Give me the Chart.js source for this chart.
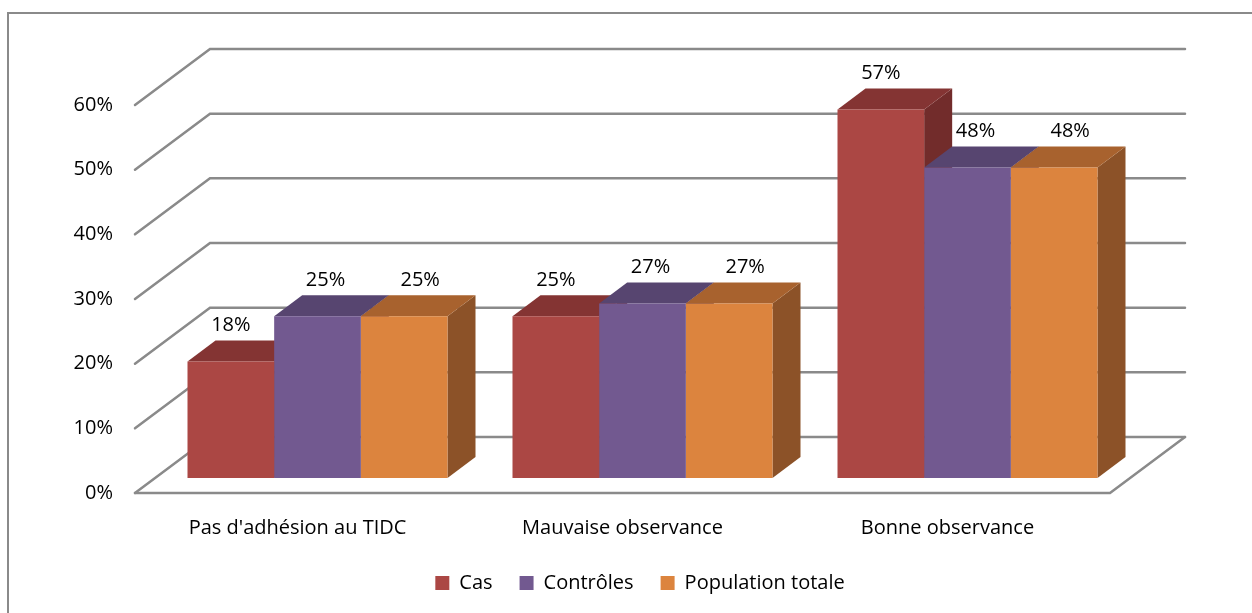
<!DOCTYPE html>
<html>
<head>
<meta charset="utf-8">
<script src="https://cdn.jsdelivr.net/npm/chart.js@4/dist/chart.umd.min.js"></script>
<style>
  html, body { margin: 0; padding: 0; background: #fff; overflow: hidden; }
  #frame { position: absolute; left: 7px; top: 12px; width: 1250px; height: 610px; border: 2px solid #8a8a8a; box-sizing: border-box; }
  canvas { position: absolute; left: 0; top: 0; }
</style>
</head>
<body>
<div id="frame"></div>
<canvas id="chart" width="1252" height="613"></canvas>
<script>
const categories = ["Pas d'adhésion au TIDC", "Mauvaise observance", "Bonne observance"];
const seriesNames = ["Cas", "Contrôles", "Population totale"];
const casValues = [18, 25, 57];
const controlesValues = [25, 27, 48];
const populationValues = [25, 27, 48];
const yTicks = [0, 10, 20, 30, 40, 50, 60];

// front, top, side colours per series
const frontColors = ["#ab4744", "#725990", "#dc843e"];
const topColors = ["#843433", "#574570", "#a8622e"];
const sideColors = ["#722c2b", "#4c3c62", "#8c5228"];

const FONT = "'Open Sans', sans-serif";
const GRID = "#8a8a8a";

// wall geometry relative to the bar plane
const front = { dx: -20, dy: 15 };
const back = { dx: 55, dy: -41 };
const bar = { dx: 28, dy: -21 };

function poly(ctx, pts, fill) {
  ctx.beginPath();
  ctx.moveTo(pts[0][0], pts[0][1]);
  for (let i = 1; i < pts.length; i++) ctx.lineTo(pts[i][0], pts[i][1]);
  ctx.closePath();
  ctx.fillStyle = fill;
  ctx.fill();
}

const walls3d = {
  id: "walls3d",
  beforeDatasetsDraw(chart) {
    const { ctx, chartArea: a, scales: { y } } = chart;
    ctx.save();
    ctx.strokeStyle = GRID;
    ctx.lineWidth = 2.5;
    ctx.lineCap = "round";
    for (const v of yTicks) {
      const py = y.getPixelForValue(v);
      ctx.beginPath();
      ctx.moveTo(a.left + front.dx, py + front.dy);
      ctx.lineTo(a.left + back.dx, py + back.dy);
      ctx.lineTo(a.right + back.dx, py + back.dy);
      ctx.stroke();
    }
    // floor
    const p0 = y.getPixelForValue(0);
    ctx.beginPath();
    ctx.moveTo(a.left + front.dx, p0 + front.dy);
    ctx.lineTo(a.right + front.dx, p0 + front.dy);
    ctx.lineTo(a.right + back.dx, p0 + back.dy);
    ctx.stroke();

    // sides and tops of the bars, left to right
    const metas = chart.data.datasets.map((_, d) => chart.getDatasetMeta(d));
    for (let i = 0; i < categories.length; i++) {
      metas.forEach((meta, d) => {
        const el = meta.data[i];
        const l = el.x - el.width / 2;
        const r = el.x + el.width / 2;
        poly(ctx, [[r, el.y], [r + bar.dx, el.y + bar.dy], [r + bar.dx, el.base + bar.dy], [r, el.base]], sideColors[d]);
        poly(ctx, [[l, el.y], [r, el.y], [r + bar.dx, el.y + bar.dy], [l + bar.dx, el.y + bar.dy]], topColors[d]);
      });
    }
    ctx.restore();
  },
  afterDatasetsDraw(chart) {
    const { ctx } = chart;
    ctx.save();
    ctx.font = "20px " + FONT;
    ctx.fillStyle = "#000";
    ctx.textAlign = "center";
    ctx.textBaseline = "middle";
    chart.data.datasets.forEach((ds, d) => {
      chart.getDatasetMeta(d).data.forEach((el, i) => {
        ctx.fillText(ds.data[i] + "%", el.x + d * 8, el.y - 36);
      });
    });
    ctx.restore();
  }
};

new Chart(document.getElementById("chart"), {
  type: "bar",
  data: {
    labels: categories,
    datasets: [
      { label: seriesNames[0], data: casValues, backgroundColor: frontColors[0] },
      { label: seriesNames[1], data: controlesValues, backgroundColor: frontColors[1] },
      { label: seriesNames[2], data: populationValues, backgroundColor: frontColors[2] }
    ]
  },
  options: {
    responsive: false,
    animation: false,
    layout: { padding: { left: 28, right: 0, top: 90, bottom: 10 } },
    datasets: { bar: { categoryPercentage: 0.8, barPercentage: 1.0, borderWidth: 0 } },
    plugins: {
      legend: {
        position: "bottom",
        labels: { boxWidth: 14, boxHeight: 14, padding: 27, color: "#000", font: { family: FONT, size: 20 } }
      },
      tooltip: { enabled: false }
    },
    scales: {
      x: {
        grid: { display: false },
        border: { display: false },
        ticks: { color: "#000", labelOffset: -20, padding: 30, font: { family: FONT, size: 20 } },
        afterFit: (s) => {
          const lh = s.chart.legend ? s.chart.legend.height : 0;
          s.height = s.chart.height - 10 - lh - 478;
        }
      },
      y: {
        min: 0,
        max: 60,
        grid: { display: false, drawTicks: false },
        border: { display: false },
        ticks: { stepSize: 10, color: "#000", padding: 42, labelOffset: 15, font: { family: FONT, size: 20 }, callback: (v) => v + "%" },
        afterFit: (s) => { s.width = 127; }
      },
      // empty right-hand axis that only reserves room beside the back wall
      yRight: {
        position: "right",
        display: true,
        grid: { display: false },
        border: { display: false },
        ticks: { display: false },
        afterFit: (s) => { s.width = 122; }
      }
    }
  },
  plugins: [walls3d]
});
</script>
</body>
</html>
